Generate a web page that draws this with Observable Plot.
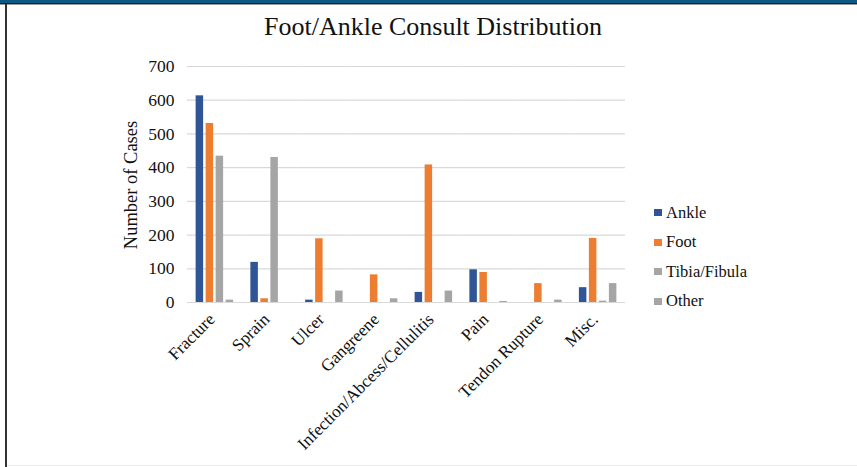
<!DOCTYPE html>
<html><head><meta charset="utf-8">
<script src="https://cdn.jsdelivr.net/npm/d3@7"></script>
<script src="https://cdn.jsdelivr.net/npm/@observablehq/plot@0.6"></script>
<style>
body{margin:0;background:#fff;width:857px;height:467px;overflow:hidden;position:relative;font-family:"Liberation Serif",serif;color:#111;}
#topband{position:absolute;left:0;top:0;width:857px;height:3px;background:#0b5a84;border-bottom:1px solid #1b1b1b;}
#topline{position:absolute;left:0;top:4px;width:857px;height:1px;background:#9a9a9a}
#leftline{position:absolute;left:5px;top:4px;width:2px;height:463px;background:#333}
#bottomline{position:absolute;left:7px;top:465px;width:850px;height:1px;background:#ececec}
#title{position:absolute;left:0;width:866px;top:12px;text-align:center;font-size:26px;}
#chart{position:absolute;left:0;top:50px}
#chart svg text{font-family:"Liberation Serif",serif !important;}
#ylabel{position:absolute;left:131px;top:185px;transform:translate(-50%,-50%) rotate(-90deg);font-size:18.5px;white-space:nowrap}
#legend{position:absolute;left:654px;top:198px;font-size:16.5px}
.item{height:29.5px;display:flex;align-items:center;line-height:1}
.sw{width:8px;height:7px;margin-right:4px}
</style>
</head><body>
<div id="topband"></div><div id="topline"></div><div id="leftline"></div><div id="bottomline"></div>
<div id="title">Foot/Ankle Consult Distribution</div>
<div id="chart"></div>
<div id="ylabel">Number of Cases</div>
<div id="legend"></div>
<script>
const categories = ["Fracture","Sprain","Ulcer","Gangreene","Infection/Abcess/Cellulitis","Pain","Tendon Rupture","Misc."];
const series = ["Ankle","Foot","Tibia/Fibula","Other"];
const colors = ["#2f5597","#ed7d31","#a5a5a5","#a5a5a5"];
const ankle = [613,119,7,0,30,97,0,44];
const foot  = [531,11,189,82,408,89,56,190];
const tibia = [434,430,0,0,0,0,0,4];
const other = [7,0,34,11,34,3,7,56];
const yTicks = [0,100,200,300,400,500,600,700];

const seriesValues = [ankle, foot, tibia, other];
const data = categories.flatMap((c,i)=>seriesValues.map((arr,j)=>({category:c, series:series[j], value:arr[i]})));
const FONT = "Liberation Serif, serif";

const chart = Plot.plot({
  width:857, height:417,
  marginLeft:187, marginRight:232, marginTop:16, marginBottom:165,
  style:{fontFamily:FONT, background:"transparent", color:"#111"},
  fx:{domain:categories, padding:0, round:false, label:null},
  x:{domain:series, paddingInner:0.25, paddingOuter:0.8625, round:false, axis:null},
  y:{domain:[0,700], label:null},
  color:{domain:series, range:colors},
  marks:[
    Plot.gridY(yTicks,{stroke:"#d9d9d9", strokeOpacity:1, strokeWidth:1.2}),
    Plot.barY(data,{fx:"category", x:"series", y:"value", fill:"series"}),
    Plot.axisY(yTicks,{tickSize:0, tickPadding:13, fontSize:17.5, fontFamily:FONT, label:null, tickFormat:d=>String(d)}),
    Plot.axisFx({anchor:"bottom", tickRotate:-45, tickSize:0, tickPadding:14, dx:-3, fontSize:17.2, fontFamily:FONT, label:null})
  ]
});
document.getElementById("chart").appendChild(chart);

const legend = document.getElementById("legend");
series.forEach((s,i)=>{
  const row = document.createElement("div"); row.className="item";
  const sw = document.createElement("div"); sw.className="sw"; sw.style.background=colors[i];
  const t = document.createElement("span"); t.textContent=s;
  row.appendChild(sw); row.appendChild(t); legend.appendChild(row);
});
</script>
</body></html>
